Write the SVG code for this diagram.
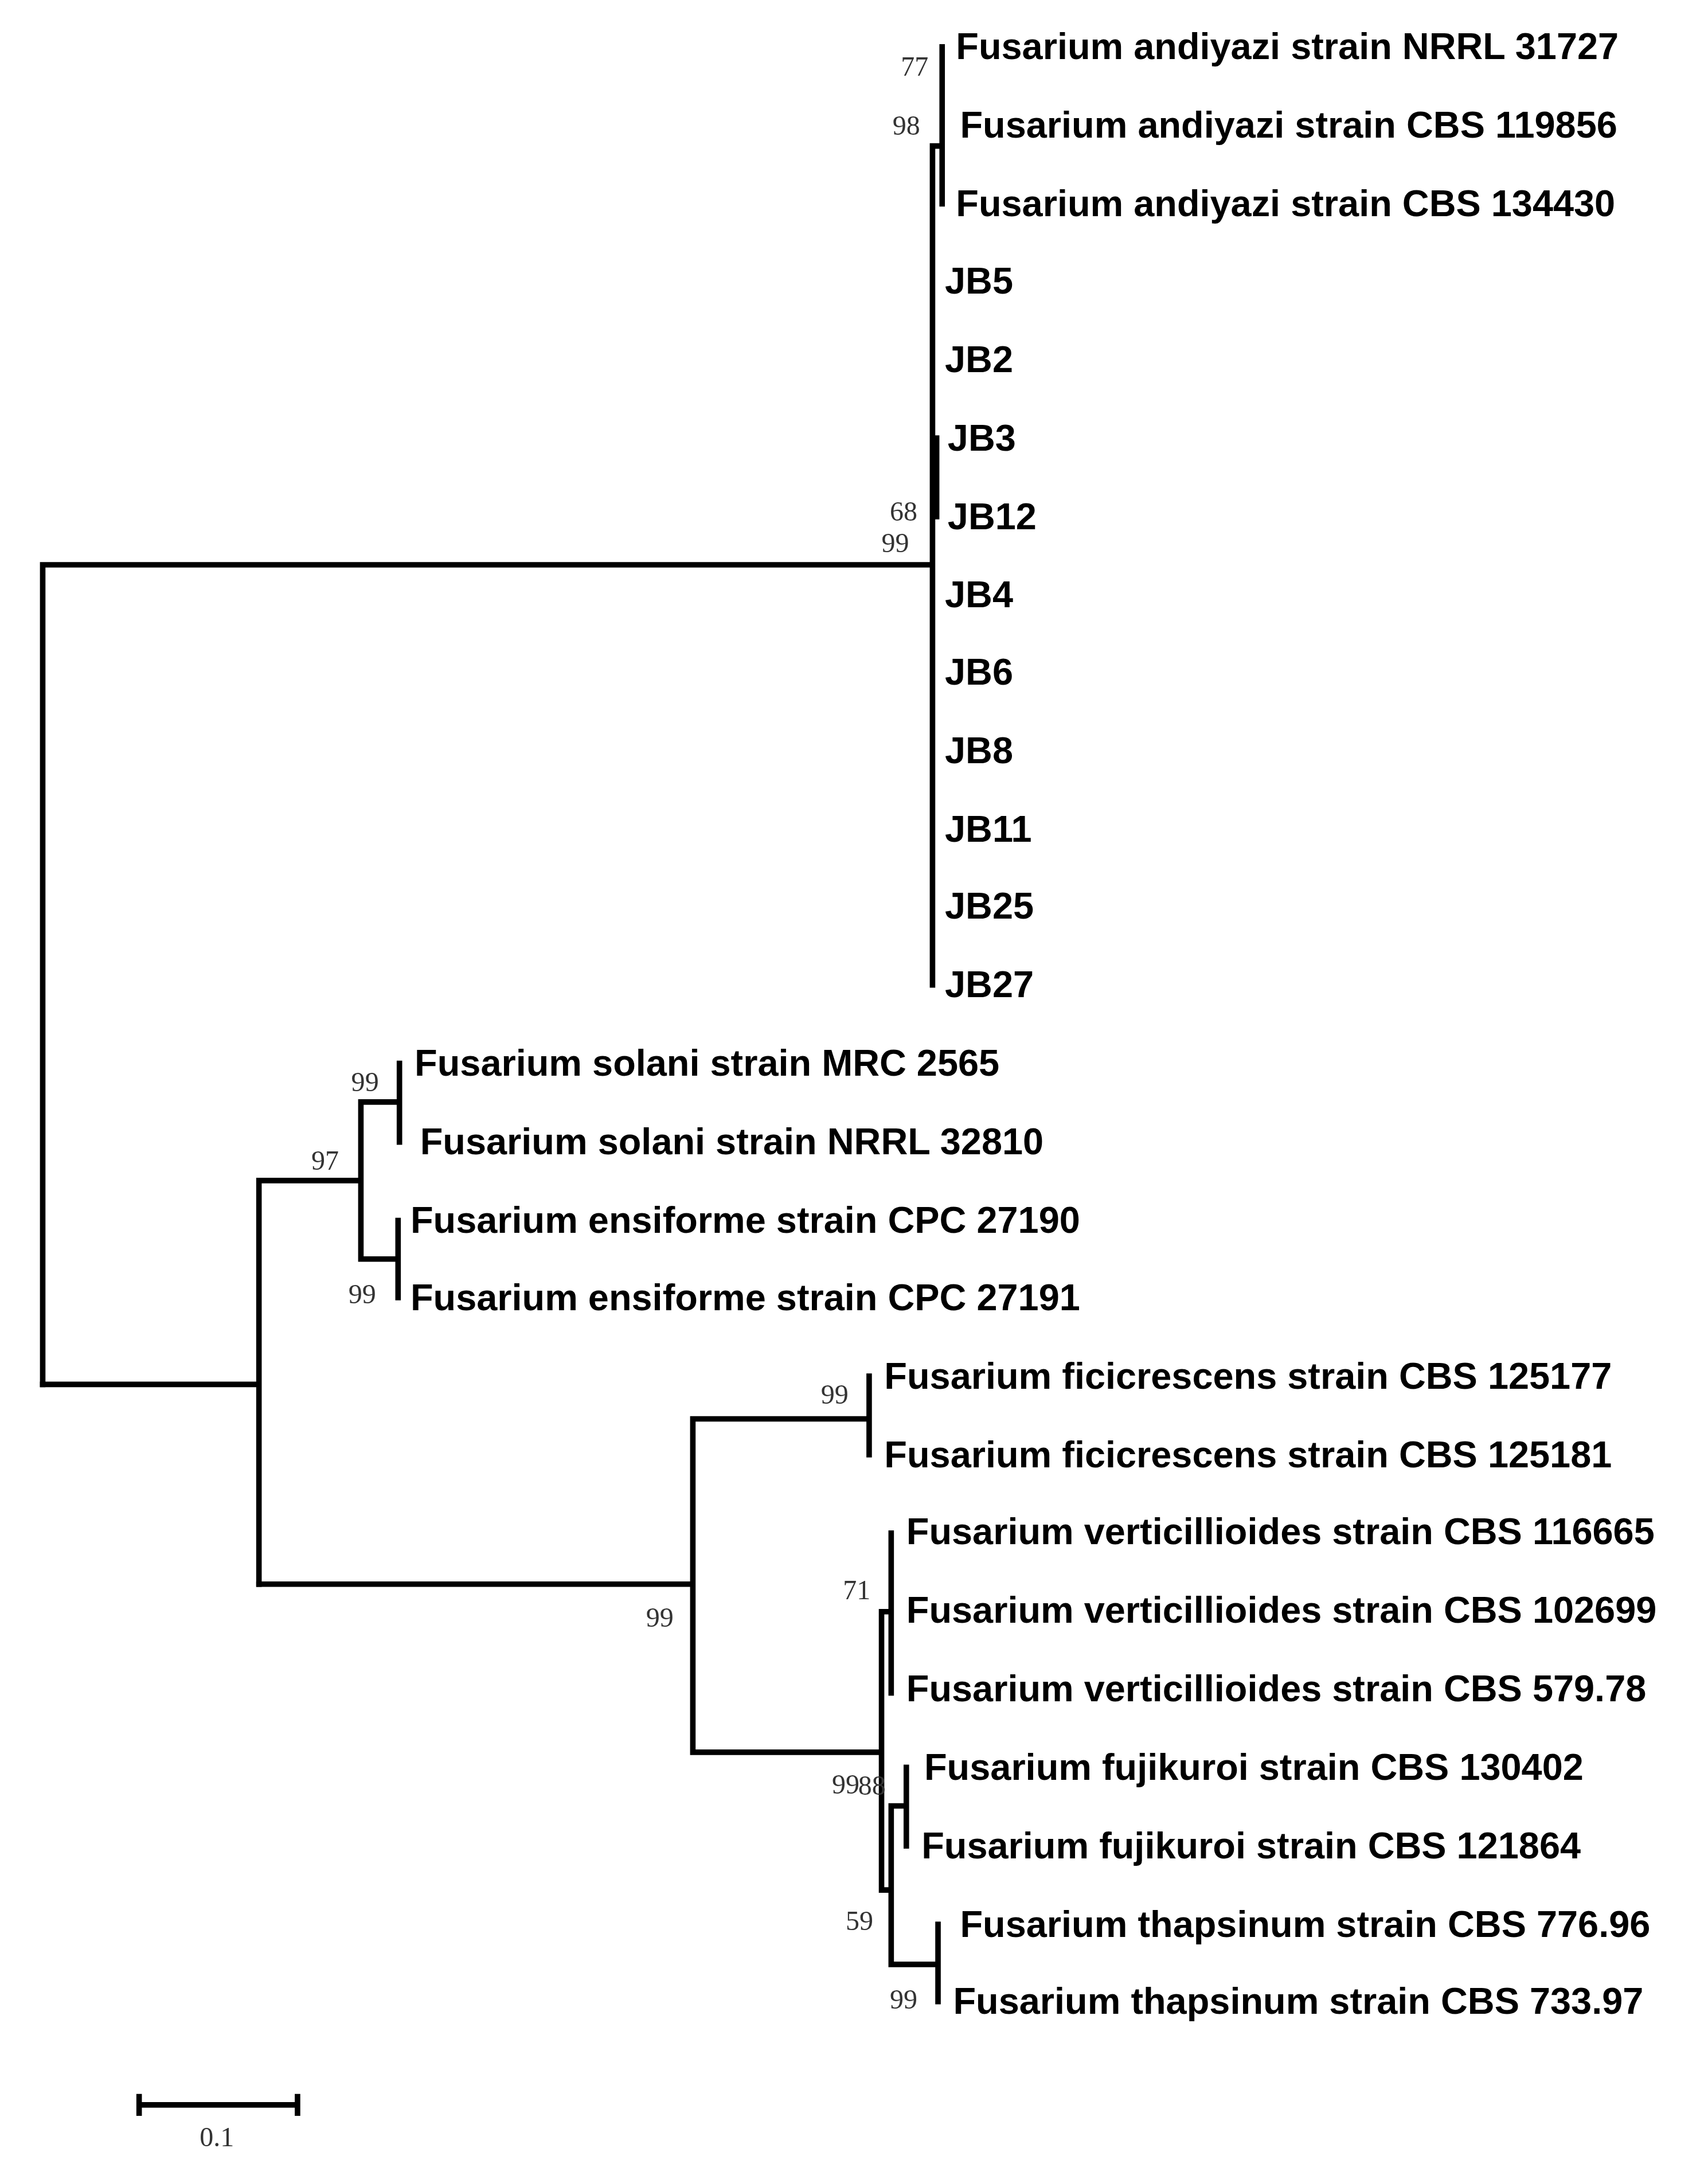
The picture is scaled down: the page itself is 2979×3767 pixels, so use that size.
<svg xmlns="http://www.w3.org/2000/svg" width="2979" height="3767" viewBox="0 0 2979 3767">
<style>
.b{fill:none;stroke:#000;stroke-width:4;stroke-linecap:square}
.t{font-family:"Liberation Sans",Arial,sans-serif;font-weight:bold;font-size:27px;fill:#000}
.n{font-family:"Liberation Serif","Times New Roman",serif;font-size:20px;fill:#333}
</style>
<rect width="2979" height="3767" fill="#fff"/>
<g transform="scale(2.4024)">
<g id="connectors">
<path class="b" d="M31 410V1005M31 410H677M677 106V715M684 34V148M677 106H684M680 318V375"/>
<path class="b" d="M31 1005H188M188 857V1150M188 857H262M262 800V914M262 800H290M290 772V829M262 914H289M289 886V942"/>
<path class="b" d="M188 1150H503M503 1030V1272M503 1030H631M631 999V1056M503 1272H640M640 1170V1372M640 1170H647M647 1113V1229M640 1372H647M647 1311V1426M647 1311H658M658 1283V1340M647 1426H681M681 1397V1453"/>
<path class="b" d="M101 1528H216M101 1522V1534M216 1522V1534"/>
</g>
<g id="labels">
<text class="t" x="694" y="43">Fusarium andiyazi strain NRRL 31727</text>
<text class="t" x="697" y="100">Fusarium andiyazi strain CBS 119856</text>
<text class="t" x="694" y="157">Fusarium andiyazi strain CBS 134430</text>
<text class="t" x="686" y="213">JB5</text>
<text class="t" x="686" y="270">JB2</text>
<text class="t" x="688" y="327">JB3</text>
<text class="t" x="688" y="384">JB12</text>
<text class="t" x="686" y="441">JB4</text>
<text class="t" x="686" y="497">JB6</text>
<text class="t" x="686" y="554">JB8</text>
<text class="t" x="686" y="611">JB11</text>
<text class="t" x="686" y="667">JB25</text>
<text class="t" x="686" y="724">JB27</text>
<text class="t" x="301" y="781">Fusarium solani strain MRC 2565</text>
<text class="t" x="305" y="838">Fusarium solani strain NRRL 32810</text>
<text class="t" x="298" y="895">Fusarium ensiforme strain CPC 27190</text>
<text class="t" x="298" y="951">Fusarium ensiforme strain CPC 27191</text>
<text class="t" x="642" y="1008">Fusarium ficicrescens strain CBS 125177</text>
<text class="t" x="642" y="1065">Fusarium ficicrescens strain CBS 125181</text>
<text class="t" x="658" y="1121">Fusarium verticillioides strain CBS 116665</text>
<text class="t" x="658" y="1178">Fusarium verticillioides strain CBS 102699</text>
<text class="t" x="658" y="1235">Fusarium verticillioides strain CBS 579.78</text>
<text class="t" x="671" y="1292">Fusarium fujikuroi strain CBS 130402</text>
<text class="t" x="669" y="1349">Fusarium fujikuroi strain CBS 121864</text>
<text class="t" x="697" y="1406">Fusarium thapsinum strain CBS 776.96</text>
<text class="t" x="692" y="1462">Fusarium thapsinum strain CBS 733.97</text>
</g>
<g id="support">
<text class="n" x="654" y="55">77</text>
<text class="n" x="648" y="98">98</text>
<text class="n" x="646" y="378">68</text>
<text class="n" x="640" y="401">99</text>
<text class="n" x="255" y="792">99</text>
<text class="n" x="226" y="849">97</text>
<text class="n" x="253" y="946">99</text>
<text class="n" x="596" y="1019">99</text>
<text class="n" x="469" y="1181">99</text>
<text class="n" x="612" y="1161">71</text>
<text class="n" x="604" y="1302">99</text>
<text class="n" x="623" y="1303">88</text>
<text class="n" x="614" y="1401">59</text>
<text class="n" x="646" y="1458">99</text>
<text class="n" x="145" y="1558" font-size="16">0.1</text>
</g>
</g>
</svg>
